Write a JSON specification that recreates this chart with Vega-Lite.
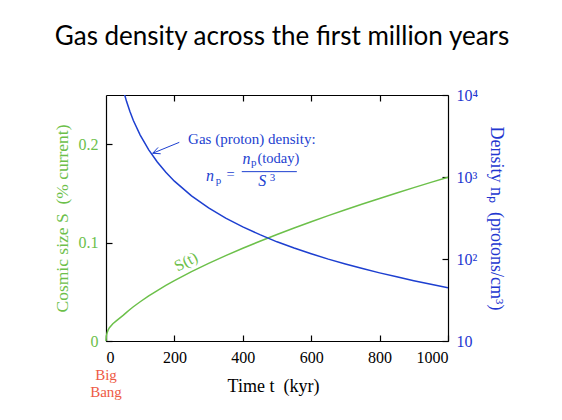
{
  "$schema": "https://vega.github.io/schema/vega-lite/v6.json",
  "width": 342,
  "height": 246,
  "autosize": {"type": "none"},
  "padding": {"left": 106, "top": 95, "right": 114, "bottom": 79},
  "background": "white",
  "title": {"text": "Gas density across the first million years", "font": "Lato", "fontSize": 26, "fontWeight": "normal", "color": "black", "anchor": "middle", "offset": 37, "dx": 5},
  "config": {
    "view": {"stroke": null},
    "axis": {"labelFont": "Liberation Serif", "titleFont": "Liberation Serif", "labelFontSize": 16, "titleFontSize": 16, "titleFontWeight": "normal", "domainColor": "black", "tickColor": "black", "grid": false, "domainWidth": 1.2, "tickWidth": 1.2}
  },
  "datasets": {
    "curve": [
      {"t": 0, "S": 0, "n": null},
      {"t": 1, "S": 0.005, "n": null},
      {"t": 3, "S": 0.008, "n": null},
      {"t": 6, "S": 0.011, "n": null},
      {"t": 10, "S": 0.0135, "n": null},
      {"t": 20, "S": 0.0175, "n": null},
      {"t": 30, "S": 0.0205, "n": null},
      {"t": 40, "S": 0.0233, "n": 16285},
      {"t": 50, "S": 0.026, "n": 11720},
      {"t": 60, "S": 0.0291, "n": 8369},
      {"t": 70, "S": 0.032, "n": 6287},
      {"t": 80, "S": 0.0348, "n": 4888},
      {"t": 100, "S": 0.0399, "n": 3243},
      {"t": 125, "S": 0.0458, "n": 2144},
      {"t": 150, "S": 0.0513, "n": 1526},
      {"t": 175, "S": 0.0565, "n": 1142},
      {"t": 200, "S": 0.0614, "n": 890},
      {"t": 250, "S": 0.0705, "n": 588},
      {"t": 300, "S": 0.0789, "n": 419},
      {"t": 350, "S": 0.0868, "n": 315},
      {"t": 400, "S": 0.0943, "n": 246},
      {"t": 450, "S": 0.1014, "n": 198},
      {"t": 500, "S": 0.1083, "n": 162},
      {"t": 550, "S": 0.1149, "n": 136},
      {"t": 600, "S": 0.1212, "n": 116},
      {"t": 650, "S": 0.1274, "n": 99.6},
      {"t": 700, "S": 0.1334, "n": 86.8},
      {"t": 750, "S": 0.1392, "n": 76.4},
      {"t": 800, "S": 0.1449, "n": 67.7},
      {"t": 850, "S": 0.1504, "n": 60.6},
      {"t": 900, "S": 0.1559, "n": 54.4},
      {"t": 950, "S": 0.1612, "n": 49.2},
      {"t": 1000, "S": 0.1664, "n": 44.7}
    ],
    "heading": [
      {"t": 240, "S": 0.2053, "label": "Gas (proton) density:"}
    ],
    "plainText": [
      {"t": 364, "S": 0.1682, "label": "="},
      {"t": 504, "S": 0.185, "label": "(today)"}
    ],
    "italicText": [
      {"t": 304, "S": 0.1677, "label": "n"},
      {"t": 411, "S": 0.185, "label": "n"},
      {"t": 457, "S": 0.1626, "label": "S"}
    ],
    "smallText": [
      {"t": 329, "S": 0.1631, "label": "p"},
      {"t": 432, "S": 0.1809, "label": "p"},
      {"t": 487, "S": 0.1657, "label": "3"}
    ],
    "fraction": [{"t": 397, "t2": 558, "S": 0.1721}],
    "arrow": [
      {"part": "shaft", "k": 1, "t": 214.3, "S": 0.2019},
      {"part": "shaft", "k": 2, "t": 136.5, "S": 0.1908},
      {"part": "head", "k": 1, "t": 159.9, "S": 0.1903},
      {"part": "head", "k": 2, "t": 136.5, "S": 0.1908},
      {"part": "head", "k": 3, "t": 152.3, "S": 0.1967}
    ],
    "sLabel": [{"t": 234, "S": 0.0806, "label": "S(t)"}],
    "bigBang": [{"t": 0, "S": -0.027, "label": "Big\nBang"}]
  },
  "layer": [
    {
      "layer": [
        {
          "data": {"name": "curve"},
          "mark": {"type": "line", "color": "#6cc04a", "strokeWidth": 1.5},
          "encoding": {
            "x": {"field": "t", "type": "quantitative", "scale": {"domain": [0, 1000], "nice": false},
              "axis": {"orient": "bottom", "values": [0, 200, 400, 600, 800, 1000], "format": "d", "tickSize": -6, "labelPadding": 14, "labelColor": "black", "title": "Time t\u00a0\u00a0(kyr)", "titleColor": "black", "titleFontSize": 18, "titlePadding": 12, "titleX": 167}},
            "y": {"field": "S", "type": "quantitative", "scale": {"domain": [0, 0.25], "nice": false, "zero": true},
              "axis": {"orient": "left", "values": [0, 0.1, 0.2], "labelExpr": "datum.value == 0 ? '0' : format(datum.value, '.1f')", "tickSize": -6, "labelPadding": 14, "labelColor": "#6cc04a", "title": "Cosmic size S\u00a0\u00a0(% current)", "titleColor": "#6cc04a", "titleFontSize": 17.5, "titlePadding": 7}}
          }
        },
        {
          "data": {"name": "heading"},
          "mark": {"type": "text", "font": "Liberation Serif", "fontSize": 15, "color": "#1d3fd0", "baseline": "middle", "align": "left"},
          "encoding": {
            "x": {"field": "t", "type": "quantitative"},
            "y": {"field": "S", "type": "quantitative"},
            "text": {"field": "label"}
          }
        },
        {
          "data": {"name": "plainText"},
          "mark": {"type": "text", "font": "Liberation Serif", "fontSize": 14.5, "color": "#1d3fd0", "baseline": "middle", "align": "center"},
          "encoding": {
            "x": {"field": "t", "type": "quantitative"},
            "y": {"field": "S", "type": "quantitative"},
            "text": {"field": "label"}
          }
        },
        {
          "data": {"name": "italicText"},
          "mark": {"type": "text", "font": "Liberation Serif", "fontSize": 16, "fontStyle": "italic", "color": "#1d3fd0", "baseline": "middle", "align": "center"},
          "encoding": {
            "x": {"field": "t", "type": "quantitative"},
            "y": {"field": "S", "type": "quantitative"},
            "text": {"field": "label"}
          }
        },
        {
          "data": {"name": "smallText"},
          "mark": {"type": "text", "font": "Liberation Serif", "fontSize": 11, "color": "#1d3fd0", "baseline": "middle", "align": "center"},
          "encoding": {
            "x": {"field": "t", "type": "quantitative"},
            "y": {"field": "S", "type": "quantitative"},
            "text": {"field": "label"}
          }
        },
        {
          "data": {"name": "fraction"},
          "mark": {"type": "rule", "color": "#1d3fd0", "strokeWidth": 1},
          "encoding": {
            "x": {"field": "t", "type": "quantitative"},
            "x2": {"field": "t2"},
            "y": {"field": "S", "type": "quantitative"}
          }
        },
        {
          "data": {"name": "arrow"},
          "mark": {"type": "line", "color": "#1d3fd0", "strokeWidth": 1},
          "encoding": {
            "x": {"field": "t", "type": "quantitative"},
            "y": {"field": "S", "type": "quantitative"},
            "detail": {"field": "part"},
            "order": {"field": "k"}
          }
        },
        {
          "data": {"name": "sLabel"},
          "mark": {"type": "text", "font": "Liberation Serif", "fontSize": 16, "color": "#6cc04a", "baseline": "middle", "align": "center", "angle": -28},
          "encoding": {
            "x": {"field": "t", "type": "quantitative"},
            "y": {"field": "S", "type": "quantitative"},
            "text": {"field": "label"}
          }
        },
        {
          "data": {"name": "bigBang"},
          "mark": {"type": "text", "font": "Liberation Serif", "fontSize": 15, "color": "#ee5a44", "baseline": "top", "align": "center", "lineBreak": "\n", "lineHeight": 17},
          "encoding": {
            "x": {"field": "t", "type": "quantitative"},
            "y": {"field": "S", "type": "quantitative"},
            "text": {"field": "label"}
          }
        }
      ]
    },
    {
      "data": {"name": "curve"},
      "transform": [{"filter": "datum.n != null"}],
      "mark": {"type": "line", "color": "#1d3fd0", "strokeWidth": 1.5, "clip": true},
      "encoding": {
        "x": {"field": "t", "type": "quantitative",
          "axis": {"orient": "top", "values": [200, 400, 600, 800], "labels": false, "title": null, "tickSize": -6}},
        "y": {"field": "n", "type": "quantitative", "scale": {"type": "log", "domain": [10, 10000], "nice": false},
          "axis": {"orient": "right", "values": [10, 100, 1000, 10000], "labelExpr": "datum.value == 10000 ? '10⁴' : datum.value == 1000 ? '10³' : datum.value == 100 ? '10²' : '10'", "tickSize": -6, "labelPadding": 14, "labelColor": "#2236d0", "title": "Density nₚ\u00a0\u00a0(protons/cm³)", "titleColor": "#2236d0", "titleFontSize": 18, "titlePadding": 9}}
      }
    }
  ],
  "resolve": {"scale": {"y": "independent"}}
}
